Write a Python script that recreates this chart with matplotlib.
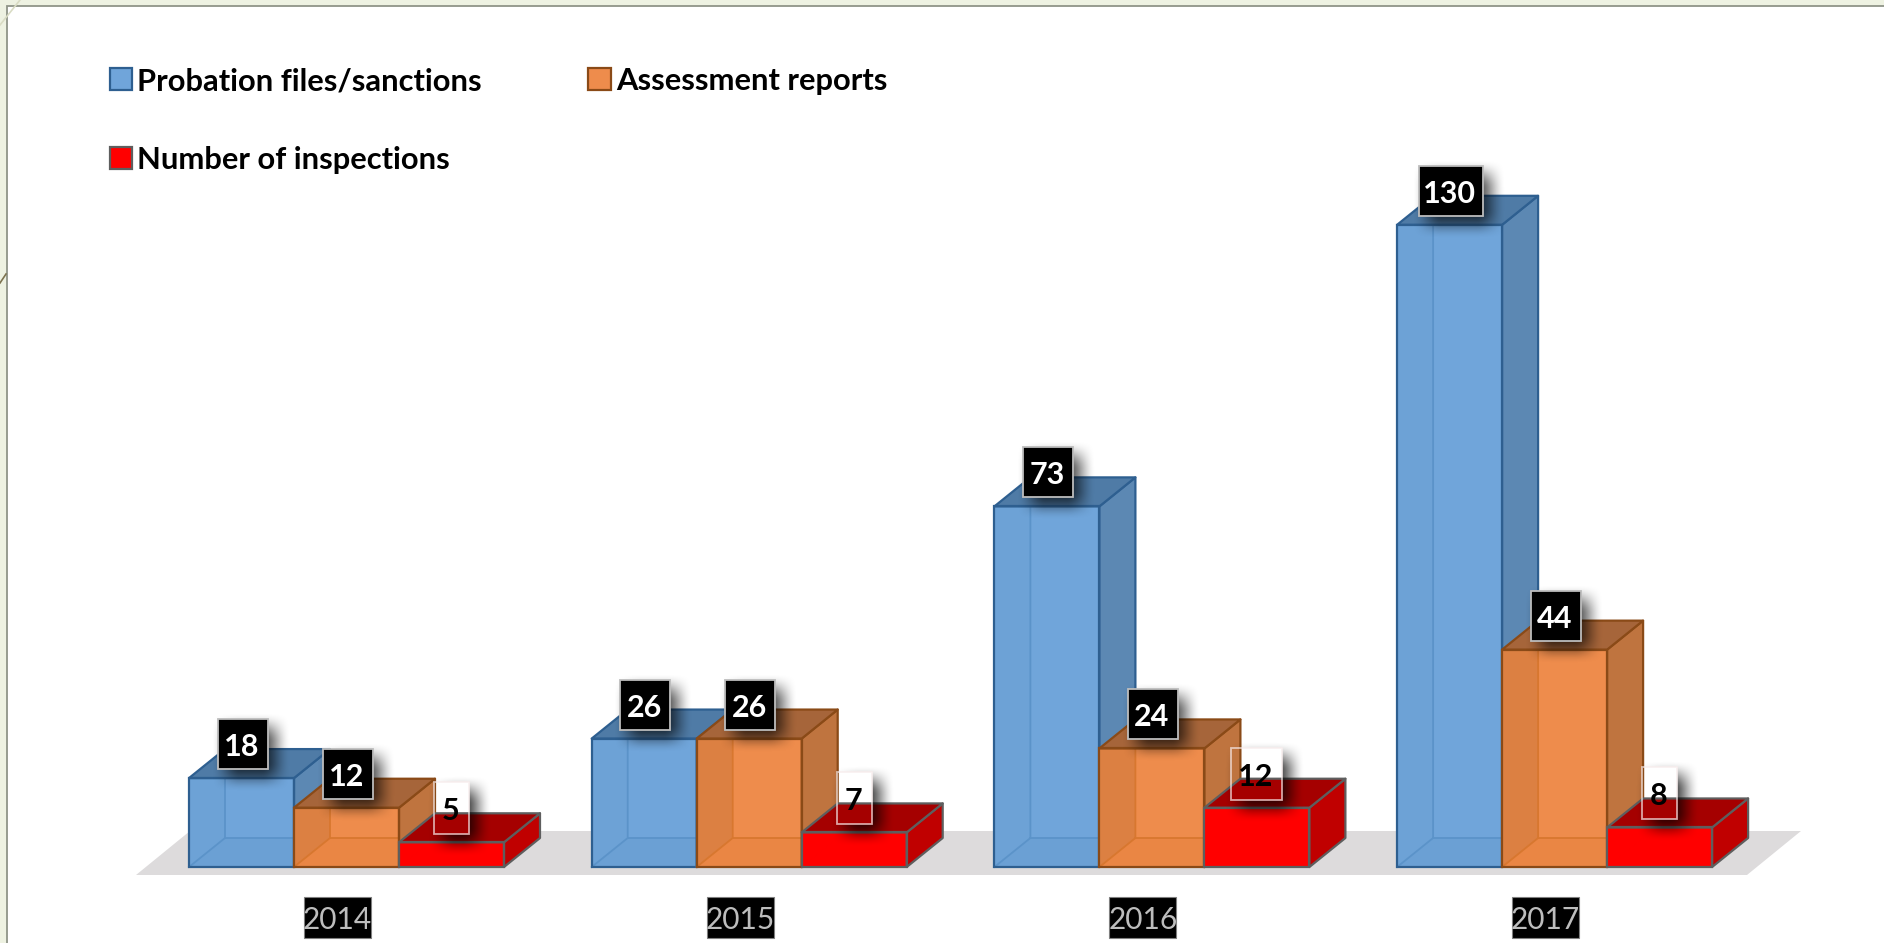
import numpy as np
import matplotlib
matplotlib.use('Agg')
import matplotlib.pyplot as plt
from matplotlib.lines import Line2D
from matplotlib.patches import Patch, Polygon, Rectangle

years = ['2014', '2015', '2016', '2017']
probation = [18, 26, 73, 130]
assessment = [12, 26, 24, 44]
inspections = [5, 7, 12, 8]

FIG_W, FIG_H = 1884, 943
BASE_PY = 867        # bar base, px from top
PX_PER_UNIT = 4.94
GROUP_PX = 402.7
FIRST_CENTER_PX = 346.5
BAR_W = 105 / GROUP_PX
DX = 36 / GROUP_PX
DY = 29 / PX_PER_UNIT
SX = 1 / GROUP_PX    # one pixel in data units
SY = 1 / PX_PER_UNIT

plt.rcParams['font.family'] = ['Lato', 'DejaVu Sans']

fig = plt.figure(figsize=(FIG_W / 100, FIG_H / 100), dpi=100, facecolor='#eef2e2')
ax = fig.add_axes([0, 0, 1, 1])
ax.set_facecolor('none')
ax.axis('off')
xlim = (-FIRST_CENTER_PX / GROUP_PX, (FIG_W - FIRST_CENTER_PX) / GROUP_PX)
ylim = ((BASE_PY - FIG_H) / PX_PER_UNIT, BASE_PY / PX_PER_UNIT)


def px(x, y):
    # figure pixels (from top left) to data units
    return (x - FIRST_CENTER_PX) / GROUP_PX, (BASE_PY - y) / PX_PER_UNIT


# white slide panel
x0, y0 = px(6.5, 6)
x1, y1 = px(FIG_W + 5, FIG_H + 5)
ax.add_patch(Rectangle((x0, y1), x1 - x0, y0 - y1, fc='white', ec='#8f9488', lw=1.3, zorder=0))
ax.add_line(Line2D(*zip(px(0, 25), px(20, 0)), color='#d9dcc4', lw=1.2, zorder=0))
ax.add_line(Line2D(*zip(px(0, 283), px(6, 274)), color='#7d7350', lw=1.2, zorder=0))

# floor
ax.add_patch(Polygon([px(136, 875), px(1747, 875), px(1801, 831), px(190, 831)],
                     fc='#dddbdc', ec='none', zorder=1))


def draw_bar(x, h, front, left, bottom, top, side, edge, inner, lw=1.6):
    z = 3
    # inside faces, seen through the front
    ax.add_patch(Polygon([(x, 0), (x + DX, DY), (x + DX, h + DY), (x, h)], fc=left, ec='none', zorder=z))
    ax.add_patch(Rectangle((x + DX, DY), BAR_W - DX, h, fc=front, ec='none', zorder=z))
    ax.add_patch(Polygon([(x, 0), (x + BAR_W, 0), (x + BAR_W + DX, DY), (x + DX, DY)], fc=bottom, ec='none', zorder=z))
    ax.add_line(Line2D([x, x + DX, x + DX], [0, DY, h], color=inner, lw=1.3, zorder=z))
    ax.add_line(Line2D([x + DX, x + BAR_W], [DY, DY], color=inner, lw=1.3, zorder=z))
    # outer faces
    ax.add_patch(Polygon([(x + BAR_W, 0), (x + BAR_W + DX, DY), (x + BAR_W + DX, h + DY), (x + BAR_W, h)],
                         fc=side, ec=edge, lw=lw, joinstyle='round', zorder=z))
    ax.add_patch(Polygon([(x, h), (x + BAR_W, h), (x + BAR_W + DX, h + DY), (x + DX, h + DY)],
                         fc=top, ec=edge, lw=lw, joinstyle='round', zorder=z))
    ax.add_patch(Rectangle((x, 0), BAR_W, h, fc='none', ec=edge, lw=lw, zorder=z))


def soft_shadow(cx, cy, w, h, knockout=False, strength=0.72):
    # blurred shadow down and right of a label, sizes in px
    pad = 30
    left, right = cx - w / 2, cx + w / 2
    up, down = cy - h / 2, cy + h / 2
    xs = np.arange(left - pad, right + 2 * pad)
    ys = np.arange(up - pad, down + 2 * pad)
    sx0, sx1, sy0, sy1 = left + 8, right + 8, up + 8, down + 8
    ramp = lambda t: (lambda c: c * c * (3 - 2 * c))(np.clip(t / 30 + 0.5, 0, 1))
    ax_x = ramp(xs - sx0) * ramp(sx1 - xs)
    ax_y = ramp(ys - sy0) * ramp(sy1 - ys)
    alpha = np.outer(ax_y, ax_x) * strength
    if knockout:
        inside = np.outer((ys >= up) & (ys <= down), (xs >= left) & (xs <= right))
        alpha[inside] = 0
    rgba = np.zeros(alpha.shape + (4,))
    rgba[..., 3] = alpha
    ex0, ey0 = px(xs[0], ys[-1])
    ex1, ey1 = px(xs[-1], ys[0])
    ax.imshow(rgba, extent=(ex0, ex1, ey0, ey1), origin='upper', aspect='auto',
              interpolation='bilinear', zorder=4)


def dark_label(xc, h, value):
    text = str(value)
    w = 64 if len(text) == 3 else 50
    cx = FIRST_CENTER_PX + xc * GROUP_PX + 1
    cy = BASE_PY - h * PX_PER_UNIT - 34
    soft_shadow(cx, cy, w, 50)
    lx, ly = px(cx - w / 2, cy + 25)
    ax.add_patch(Rectangle((lx, ly), w * SX, 50 * SY, fc='black', ec='#bdbdbd', lw=1.3, zorder=5))
    ax.text(xc, h + 31 * SY, text, color='white', fontsize=22, fontweight='bold',
            ha='center', va='center', zorder=6)


def plain_label(xc, h, value):
    text = str(value)
    w = 51 if len(text) == 2 else 35
    cx = FIRST_CENTER_PX + xc * GROUP_PX
    cy = BASE_PY - h * PX_PER_UNIT - 34
    soft_shadow(cx, cy, w, 52, knockout=True, strength=0.8)
    lx, ly = px(cx - w / 2, cy + 26)
    ax.add_patch(Rectangle((lx, ly), w * SX, 52 * SY, fc='none', ec=(0.97, 0.92, 0.92, 0.7), lw=1.3, zorder=5))
    ax.text(xc - SX, h + 31 * SY, text, color='black', fontsize=22, fontweight='bold',
            ha='center', va='center', zorder=6)


blue = dict(front='#70a5da', left='#6da2d6', bottom='#6ba0d4', top='#4f7ba6', side='#5c88b3',
            edge='#2e5f90', inner='#5b93c9')
orange = dict(front='#ee8c4c', left='#dc8042', bottom='#ea8644', top='#a6653a', side='#bf743f',
              edge='#8a4a17', inner='#d8772f')
red = dict(front='#ff0000', left='#ff0000', bottom='#ff0000', top='#a50000', side='#c00000',
           edge='#5e5e5e', inner='#ff0000')

for i in range(len(years)):
    # back to front so each bar's side is overlapped by the next one
    start = i - 1.5 * BAR_W
    draw_bar(start, probation[i], **blue)
    draw_bar(start + BAR_W, assessment[i], **orange)
    draw_bar(start + 2 * BAR_W, inspections[i], **red)

for i in range(len(years)):
    start = i - 1.5 * BAR_W
    dark_label(start + 0.5 * BAR_W, probation[i], probation[i])
    dark_label(start + 1.5 * BAR_W, assessment[i], assessment[i])
    plain_label(start + 2.5 * BAR_W, inspections[i], inspections[i])

# category labels
for i, year in enumerate(years):
    cx = i - 9 * SX
    lx, ly = cx - 33.5 * SX, px(0, 938)[1]
    ax.add_patch(Rectangle((lx, ly), 67 * SX, 41 * SY, fc='black', ec='#7f7f7f', lw=0.8, zorder=5))
    ax.text(cx, px(0, 920)[1], year, color='#bdbdbd', fontsize=21.5, ha='center', va='center', zorder=6)

handles = [
    Patch(fc=blue['front'], ec=blue['edge'], lw=1.6, label='Probation files/sanctions'),
    Patch(fc=red['front'], ec=red['edge'], lw=1.6, label='Number of inspections'),
    Patch(fc=orange['front'], ec=orange['edge'], lw=1.6, label='Assessment reports'),
]
fig.legend(handles=handles, loc='upper left', bbox_to_anchor=(110 / FIG_W, 1 - 67 / FIG_H), ncol=2,
           frameon=False, prop=dict(family='Lato', weight='bold', size=22.2),
           handlelength=0.72, handleheight=0.72, handletextpad=0.17, columnspacing=3.45, labelspacing=1.66,
           borderpad=0, borderaxespad=0)

ax.set_xlim(xlim)
ax.set_ylim(ylim)

fig.savefig('out.png', dpi=100, facecolor=fig.get_facecolor())
